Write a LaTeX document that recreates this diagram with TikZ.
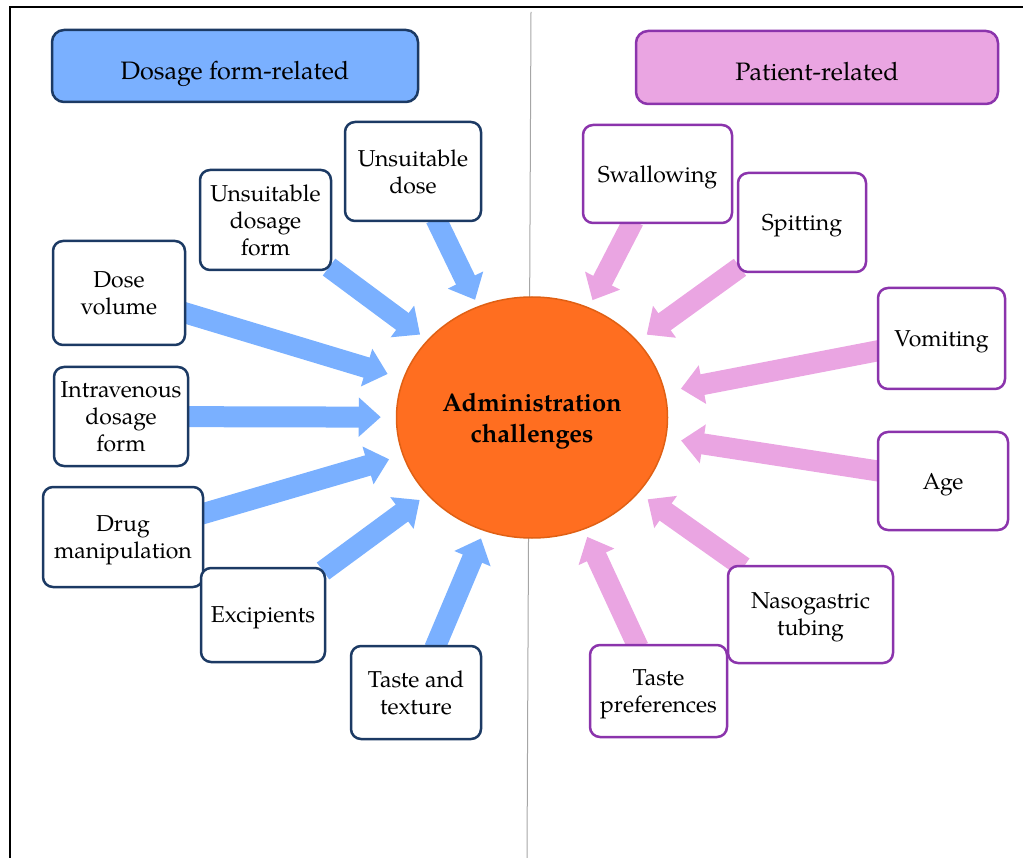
\documentclass[tikz,border=0pt]{standalone}
\usepackage{fontspec}
\setmainfont{texgyrepagella}[Extension=.otf,UprightFont=*-regular,BoldFont=*-bold]
\usetikzlibrary{arrows.meta,shapes.geometric}
\definecolor{bfill}{RGB}{122,176,255}
\definecolor{bline}{RGB}{28,58,100}
\definecolor{pfill}{RGB}{234,165,226}
\definecolor{pline}{RGB}{139,52,172}
\definecolor{ofill}{RGB}{255,110,32}
\definecolor{oline}{RGB}{224,96,20}
\newcommand\nodesc[1]{\raisebox{0pt}[\height][0pt]{#1}}
\pgfdeclarelayer{bg}
\pgfsetlayers{bg,main}
\begin{document}
\begin{tikzpicture}[x=1pt,y=-1pt,
  box/.style={rounded corners=10pt, line width=2.5pt, fill=white, align=center, inner sep=2pt,
    font=\fontsize{23}{27}\selectfont},
  lbox/.style={box, draw=bline},
  rbox/.style={box, draw=pline},
  header/.style={rounded corners=12pt, line width=2.5pt, inner sep=2pt, text height=27pt, text depth=0pt,
    font=\fontsize{25.2}{29}\selectfont},
  barrow/.style={draw=bfill, line width=21pt, shorten <=-4pt, -{Triangle[width=38pt,length=22pt]}},
  parrow/.style={draw=pfill, line width=21pt, shorten <=-4pt, -{Triangle[width=38pt,length=22pt]}}]
\useasboundingbox (0,0) rectangle (1023,858);
% frame and divider
\draw[line width=2pt] (10,858) -- (10,7) -- (1023,7);
\draw[gray!70, line width=1pt] (531,12) -- (527,858);
% headers
\node[header, draw=bline, fill=bfill, minimum width=366, minimum height=72] (hdl) at (235,66) {Dosage form-related};
\node[header, draw=pline, fill=pfill, minimum width=362, minimum height=73] (hdr) at (817,67.5) {Patient-related};
% centre
\node[ellipse, draw=oline, fill=ofill, line width=1.5pt, minimum width=271, minimum height=241, inner sep=0pt,
  align=center, font=\fontsize{25.5}{31}\selectfont\bfseries] (ch) at (532,417.5) {Administration\\\nodesc{challenges}};
% left boxes
\node[lbox, minimum width=136, minimum height=99] (ud) at (413,171.5) {Unsuitable\\dose};
\node[lbox, minimum width=131, minimum height=100] (udf) at (265.5,220) {Unsuitable\\dosage\\form};
\node[lbox, minimum width=132, minimum height=104] (dv) at (119,293) {Dose\\volume};
\node[lbox, minimum width=134, minimum height=99] (iv) at (121,416.5) {Intravenous\\dosage\\form};
\node[lbox, minimum width=160, minimum height=100] (dm) at (123,537) {Drug\\\nodesc{manipulation}};
\node[lbox, minimum width=124, minimum height=94] (ex) at (263,615) {\nodesc{Excipients}};
\node[lbox, minimum width=130, minimum height=93] (tt) at (416,692.5) {Taste and\\texture};
% right boxes
\node[rbox, minimum width=149, minimum height=98] (sw) at (657.5,174) {\nodesc{Swallowing}};
\node[rbox, minimum width=128, minimum height=99] (sp) at (802,222.5) {\nodesc{Spitting}};
\node[rbox, minimum width=127, minimum height=101] (vo) at (941.5,338.5) {\nodesc{Vomiting}};
\node[rbox, minimum width=130, minimum height=98] (ag) at (943,481) {\nodesc{Age}};
\node[rbox, minimum width=165, minimum height=97] (ng) at (810.5,614.5) {Nasogastric\\\nodesc{tubing}};
\node[rbox, minimum width=137, minimum height=92] (tp) at (658.5,691) {Taste\\\nodesc{preferences}};
% arrows
\begin{pgfonlayer}{bg}
\draw[barrow, shorten >=7pt] (ud) -- (ch);
\draw[barrow, shorten >=9pt] (udf) -- (ch);
\draw[barrow, shorten >=16pt] (dv) -- (ch);
\draw[barrow, shorten >=15pt] (iv) -- (ch);
\draw[barrow, shorten >=14pt] (dm) -- (ch);
\draw[barrow, shorten >=9pt] (ex) -- (ch);
\draw[barrow, shorten >=8pt] (tt) -- (ch);
\draw[parrow, shorten >=8pt] (sw) -- (ch);
\draw[parrow, shorten >=11pt] (sp) -- (ch);
\draw[parrow, shorten >=16pt] (vo) -- (ch);
\draw[parrow, shorten >=15pt] (ag) -- (ch);
\draw[parrow, shorten >=11pt] (ng) -- (ch);
\draw[parrow, shorten >=8pt] (tp) -- (ch);
\end{pgfonlayer}
\end{tikzpicture}
\end{document}
